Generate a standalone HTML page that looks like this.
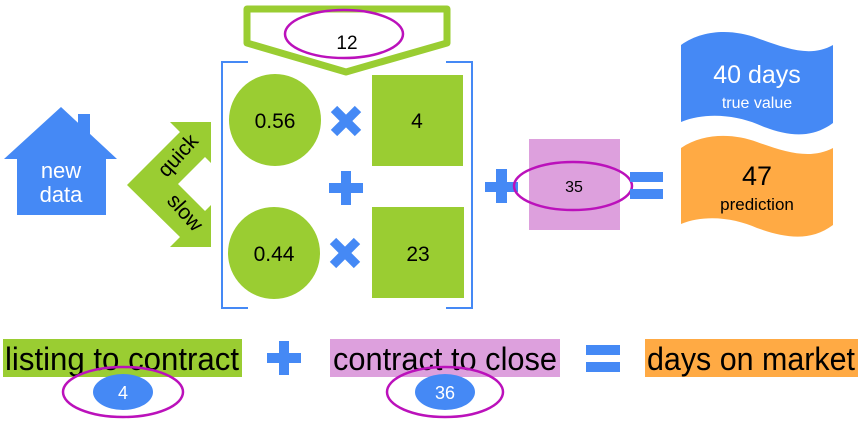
<!DOCTYPE html>
<html><head><meta charset="utf-8"><style>
html,body{margin:0;padding:0;background:#fff;}
svg{display:block;font-family:"Liberation Sans",sans-serif;}
.narrow{font-family:"Liberation Sans Narrow","Liberation Sans",sans-serif;}
</style></head><body>
<svg width="860" height="423" viewBox="0 0 860 423">
<g>
<polygon points="61,107 117,159 106,159 106,215 17,215 17,159 4,159" fill="#4589F5"/>
<rect x="78" y="114" width="12" height="22" fill="#4589F5"/>
<text x="61" y="178" font-size="22" fill="#fff" text-anchor="middle">new</text>
<text x="61" y="202" font-size="22" fill="#fff" text-anchor="middle">data</text>
</g>
<g>
<polygon fill="#9ACD32" points="127,185 180,132 170,122 211,122 211,163 205,157 178,184 205,211 211,205 211,247 170,247 180,237"/>
<text x="183" y="160" font-size="21" fill="#000" text-anchor="middle" transform="rotate(-48 183 160)">quick</text>
<text x="180" y="217" font-size="21" fill="#000" text-anchor="middle" transform="rotate(48 180 217)">slow</text>
</g>
<g>
<polygon points="247,9 447,9 447,43 346,72 247,43" fill="none" stroke="#9ACD32" stroke-width="7" stroke-linejoin="round"/>
<ellipse cx="344" cy="34" rx="59" ry="24" fill="none" stroke="#BB11BB" stroke-width="2.5"/>
<text x="347" y="49" font-size="19" text-anchor="middle">12</text>
</g>
<path d="M248,62 L222,62 L222,308 L248,308" fill="none" stroke="#4589F5" stroke-width="2"/>
<path d="M446,62 L472,62 L472,308 L446,308" fill="none" stroke="#4589F5" stroke-width="2"/>
<g>
<circle cx="275" cy="120" r="46" fill="#9ACD32"/>
<text x="275" y="128" font-size="21" text-anchor="middle">0.56</text>
<rect x="372" y="75" width="91" height="91" fill="#9ACD32"/>
<text x="417" y="128" font-size="21" text-anchor="middle">4</text>
</g>
<g>
<circle cx="274" cy="253" r="46" fill="#9ACD32"/>
<text x="274" y="261" font-size="21" text-anchor="middle">0.44</text>
<rect x="372" y="207" width="92" height="91" fill="#9ACD32"/>
<text x="418" y="261" font-size="21" text-anchor="middle">23</text>
</g>
<g stroke="#4589F5" stroke-width="9">
<path d="M334,109 L358,133 M358,109 L334,133"/>
<path d="M333,241 L357,265 M357,241 L333,265"/>
</g>
<g fill="#4589F5">
<rect x="329" y="183" width="34" height="10"/><rect x="341" y="171" width="10" height="34"/>
<rect x="485" y="182" width="33" height="10"/><rect x="496" y="169" width="11" height="34"/>
<rect x="267" y="353" width="34" height="10"/><rect x="279" y="341" width="10" height="34"/>
</g>
<g>
<rect x="529" y="139" width="91" height="91" fill="#DDA0DD"/>
<ellipse cx="573" cy="186" rx="59" ry="24" fill="none" stroke="#BB11BB" stroke-width="2.5"/>
<text x="574" y="192" font-size="16" text-anchor="middle">35</text>
</g>
<g fill="#4589F5">
<rect x="630" y="172" width="33" height="10"/><rect x="630" y="189" width="33" height="10"/>
<rect x="586" y="345" width="34" height="10"/><rect x="586" y="362" width="34" height="10"/>
</g>
<g>
<path d="M681,45 C705,28 735,30 757,38 C785,48 810,58 833,45 L833,123 C810,140 785,136 757,124 C735,115 705,112 681,122 Z" fill="#4589F5"/>
<text x="757" y="83" font-size="25" fill="#fff" text-anchor="middle">40 days</text>
<text x="757" y="108" font-size="16" fill="#fff" text-anchor="middle">true value</text>
</g>
<g>
<path d="M681,148 C705,132 735,134 757,142 C785,152 810,160 833,148 L833,225 C810,242 785,238 757,228 C735,218 705,214 681,224 Z" fill="#FFAA44"/>
<text x="757" y="185" font-size="27" text-anchor="middle">47</text>
<text x="757" y="210" font-size="17" text-anchor="middle">prediction</text>
</g>
<g>
<rect x="3" y="339" width="239" height="38" fill="#9ACD32"/>
<text class="narrow" x="122" y="370" font-size="32" text-anchor="middle" textLength="234" lengthAdjust="spacingAndGlyphs">listing to contract</text>
<ellipse cx="123" cy="392" rx="60" ry="25" fill="none" stroke="#BB11BB" stroke-width="2.5"/>
<ellipse cx="123" cy="392" rx="30" ry="18" fill="#4589F5"/>
<text x="123" y="399" font-size="18" fill="#fff" text-anchor="middle">4</text>
</g>
<g>
<rect x="330" y="339" width="230" height="38" fill="#DDA0DD"/>
<text class="narrow" x="445" y="370" font-size="32" text-anchor="middle" textLength="224" lengthAdjust="spacingAndGlyphs">contract to close</text>
<ellipse cx="445" cy="392" rx="58" ry="25" fill="none" stroke="#BB11BB" stroke-width="2.5"/>
<ellipse cx="445" cy="392" rx="30" ry="18" fill="#4589F5"/>
<text x="445" y="399" font-size="18" fill="#fff" text-anchor="middle">36</text>
</g>
<g>
<rect x="645" y="339" width="213" height="38" fill="#FFAA44"/>
<text class="narrow" x="751" y="370" font-size="32" text-anchor="middle" textLength="208" lengthAdjust="spacingAndGlyphs">days on market</text>
</g>
</svg>
</body></html>
